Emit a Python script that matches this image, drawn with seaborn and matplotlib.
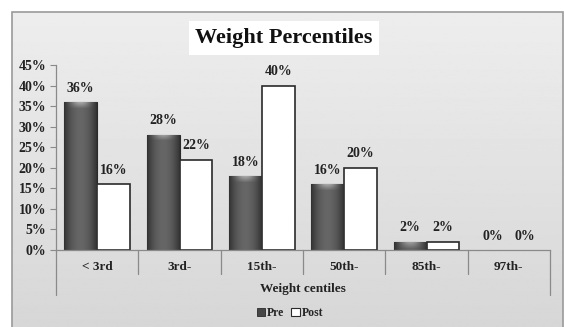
import numpy as np
import pandas as pd
import matplotlib
matplotlib.use("Agg")
import matplotlib.pyplot as plt
from matplotlib.patches import Rectangle, Patch
import seaborn as sns

# Data
categories = ["< 3rd", "3rd-", "15th-", "50th-", "85th-", "97th-"]
pre_values = [0.36, 0.28, 0.18, 0.16, 0.02, 0.00]
post_values = [0.16, 0.22, 0.40, 0.20, 0.02, 0.00]
series_names = ["Pre", "Post"]
y_ticks = [0.00, 0.05, 0.10, 0.15, 0.20, 0.25, 0.30, 0.35, 0.40, 0.45]

df = pd.DataFrame({
    "centile": categories * 2,
    "value": pre_values + post_values,
    "period": [series_names[0]] * len(categories) + [series_names[1]] * len(categories),
})

sns.set_theme(style="white")
plt.rcParams["font.family"] = ["Liberation Serif", "DejaVu Serif"]
plt.rcParams["font.weight"] = "bold"

W, H = 565, 327
fig = plt.figure(figsize=(W / 100, H / 100), dpi=100)
fig.patch.set_facecolor("white")

# Panel background: soft vertical grey gradient inside a thin frame
bg = fig.add_axes([0, 0, 1, 1], zorder=0)
bg.set_axis_off()
bg.set_xlim(0, 1)
bg.set_ylim(0, 1)
x0, x1 = 12 / W, 563 / W
y1 = 1 - 12 / H
grad = np.linspace(0.84, 0.93, 256).reshape(-1, 1)
bg.imshow(grad, extent=[x0, x1, -0.02, y1], origin="lower", cmap="gray",
          vmin=0, vmax=1, aspect="auto", zorder=0)
bg.add_patch(Rectangle((x0, -0.02), x1 - x0, y1 + 0.02, fill=False,
                       edgecolor="#9a9a9a", linewidth=1.2, zorder=1))

ax = fig.add_axes([56 / W, 1 - 250 / H, 494 / W, 185 / H], zorder=1)
ax.patch.set_alpha(0)

sns.barplot(data=df, x="centile", y="value", hue="period", order=categories,
            hue_order=series_names, palette={"Pre": "#474747", "Post": "white"},
            width=0.8, gap=0, legend=False, ax=ax, saturation=1)

pre_bars = ax.containers[0]
post_bars = ax.containers[1]

for bar in post_bars:
    bar.set_edgecolor("#2a2a2a")
    bar.set_linewidth(1.2 if bar.get_height() > 0 else 0)

# Cylinder-like shading on the Pre bars
px_per_unit = 185 / 0.45
t = np.linspace(0, 1, 64)
profile = 0.19 + 0.21 * np.sin(np.pi * t) ** 0.8
for bar in pre_bars:
    h = bar.get_height()
    bar.set_edgecolor("#2a2a2a")
    bar.set_linewidth(0.8 if h > 0 else 0)
    if h <= 0:
        continue
    rows = max(int(h * px_per_unit), 2)
    img = np.tile(profile, (rows, 1))
    cap = min(6, rows)
    for k in range(cap):
        img[rows - 1 - k] = img[rows - 1 - k] + 0.25 * (1 - k / cap) * np.sin(np.pi * t) ** 2
    im = ax.imshow(img, extent=[bar.get_x(), bar.get_x() + bar.get_width(), 0, h],
                   origin="lower", cmap="gray", vmin=0, vmax=1, aspect="auto",
                   zorder=bar.get_zorder() + 0.1)
    im.set_clip_path(bar)

# Value labels
for container, values in ((pre_bars, pre_values), (post_bars, post_values)):
    for bar, v in zip(container, values):
        ax.annotate(f"{v:.0%}", (bar.get_x() + bar.get_width() / 2, v),
                    xytext=(0, 10), textcoords="offset points", ha="center",
                    va="center", fontsize=10, fontweight="bold", color="#222222")

ax.set_xlim(-0.5, len(categories) - 0.5)
ax.set_ylim(0, 0.45)
ax.set_yticks(y_ticks)
ax.set_yticklabels([f"{v:.0%}" for v in y_ticks])
ax.tick_params(axis="y", length=4, width=0.8, color="#8a8a8a", pad=3,
               labelsize=10, labelcolor="#222222", left=True)
ax.tick_params(axis="x", length=0, pad=8, labelsize=9.5, labelcolor="#222222")
for lbl in ax.get_xticklabels() + ax.get_yticklabels():
    lbl.set_fontweight("bold")

for side in ("top", "right"):
    ax.spines[side].set_visible(False)
for side in ("left", "bottom"):
    ax.spines[side].set_color("#8a8a8a")
    ax.spines[side].set_linewidth(0.9)

# Category separators below the axis
trans = ax.get_xaxis_transform()
bounds = np.arange(-0.5, len(categories), 1.0)
for b in bounds:
    depth = -0.245 if b in (bounds[0], bounds[-1]) else -0.13
    ax.plot([b, b], [0, depth], transform=trans, color="#8a8a8a",
            linewidth=0.9, clip_on=False)

ax.set_xlabel("Weight centiles", fontsize=9.5, fontweight="bold", color="#222222",
              labelpad=7)
ax.set_ylabel("")

fig.text(284 / W, 1 - 38 / H, "Weight Percentiles", ha="center", va="center",
         fontsize=16, fontweight="bold", color="#111111",
         bbox=dict(boxstyle="square,pad=0.3", facecolor="white", edgecolor="none"))

handles = [Patch(facecolor="#474747", edgecolor="#2a2a2a", linewidth=0.6),
           Patch(facecolor="white", edgecolor="#2a2a2a", linewidth=0.8)]
fig.legend(handles, series_names, loc="center", bbox_to_anchor=(290 / W, 1 - 313 / H),
           ncol=2, frameon=False, handlelength=0.7, handleheight=0.7,
           handletextpad=0.15, columnspacing=0.6,
           prop={"family": "Liberation Serif", "weight": "bold", "size": 8.5})

fig.savefig("out.png", dpi=100)
